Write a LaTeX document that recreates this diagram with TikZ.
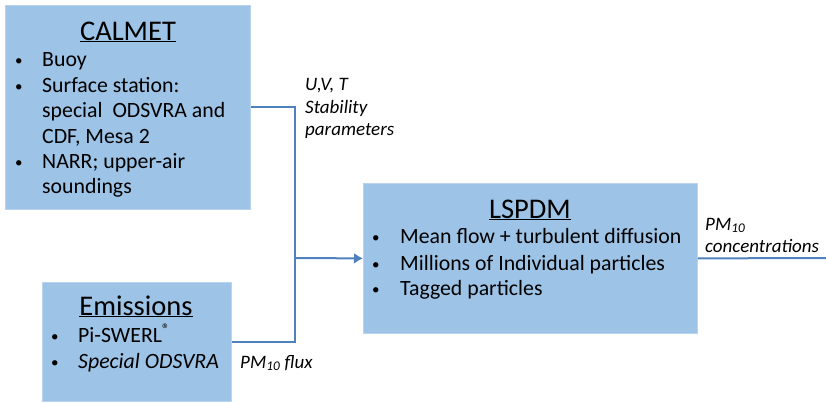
\documentclass[tikz,border=0pt]{standalone}
\usepackage{fontspec}
\setmainfont{Carlito}
\usetikzlibrary{arrows.meta}
\definecolor{boxfill}{RGB}{157,195,230}
\definecolor{boxedge}{RGB}{185,212,238}
\definecolor{linec}{RGB}{79,129,189}
\tikzset{
  box/.style={fill=boxfill, draw=boxedge, line width=0.8pt, anchor=north west, inner sep=0, rectangle},
  conn/.style={draw=linec, line width=2pt},
  head/.style={font=\fontsize{28.5}{32}\selectfont, anchor=base, inner sep=0},
  body/.style={font=\fontsize{21.8}{25}\selectfont, anchor=base west, inner sep=0},
  bul/.style={font=\fontsize{15}{18}\selectfont, anchor=base west, inner sep=0},
  lbl/.style={font=\fontsize{19}{22}\selectfont\itshape, anchor=base west, inner sep=0}
}
\begin{document}
\begin{tikzpicture}[x=1pt,y=-1pt]
\useasboundingbox (0,0) rectangle (826,402);
% boxes
\node[box, minimum width=245pt, minimum height=204pt] (calmet) at (5,5) {};
\node[box, minimum width=189pt, minimum height=119pt] (emis) at (42,282) {};
\node[box, minimum width=334pt, minimum height=150pt] (lspdm) at (363,183) {};
% connectors
\coordinate (j) at (295,258);
\coordinate (out) at (826,258);
\draw[conn] (calmet.east) -| (j);
\draw[conn] (emis.east) -| (j);
\draw[conn, -{Latex[length=9pt,width=11pt]}] (j) -- (lspdm.west);
\draw[conn] (lspdm.east) -- (out);
% CALMET text
\node[head] (calmetT) at (128,40) {\underline{CALMET}};
\node[bul] (cb1) at (15,65) {•};
\node[body] (c1) at (42,66) {Buoy};
\node[bul] (cb2) at (15,91) {•};
\node[body] (c2) at (42,92) {Surface station:};
\node[body] (c3) at (42,117) {special\ \ ODSVRA and};
\node[body] (c4) at (42,143) {CDF, Mesa 2};
\node[bul] (cb3) at (15,167) {•};
\node[body] (c5) at (42,168) {NARR; upper-air};
\node[body] (c6) at (42,193) {soundings};
% Emissions text
\node[head] (emisT) at (136,315) {\underline{Emissions}};
\node[bul] (eb1) at (51,341) {•};
\node[body] (e1) at (78,342) {Pi-SWERL\textsuperscript{\textregistered}};
\node[bul] (eb2) at (51,367) {•};
\node[body] (e2) at (78,368) {\itshape Special ODSVRA};
% LSPDM text
\node[head] (lspdmT) at (530,218) {\underline{LSPDM}};
\node[bul] (lb1) at (372,242) {•};
\node[body] (l1) at (400,243) {Mean flow + turbulent diffusion};
\node[bul] (lb2) at (372,269) {•};
\node[body] (l2) at (400,270) {Millions of Individual particles};
\node[bul] (lb3) at (372,294) {•};
\node[body] (l3) at (400,295) {Tagged particles};
% labels
\node[lbl] (u1) at (305,90) {U,V, T};
\node[lbl] (u2) at (305,113) {Stability};
\node[lbl] (u3) at (305,135) {parameters};
\node[lbl] (pf) at (240,368) {PM\textsubscript{10} flux};
\node[lbl] (pc1) at (705,230) {PM\textsubscript{10}};
\node[lbl] (pc2) at (705,252) {concentrations};
\end{tikzpicture}
\end{document}
